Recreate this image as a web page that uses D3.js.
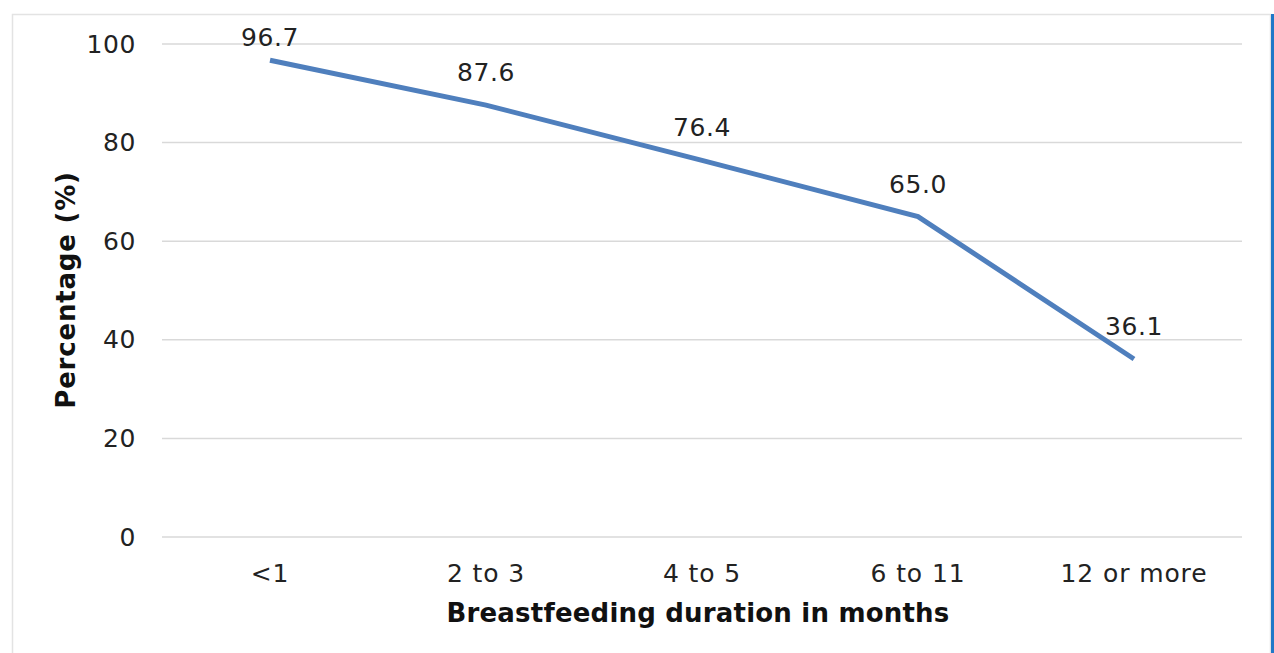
<!DOCTYPE html>
<html>
<head>
<meta charset="utf-8">
<script src="https://cdn.jsdelivr.net/npm/d3@7"></script>
<style>
  body { margin: 0; background: #fff; }
  svg { display: block; font-family: "DejaVu Sans", Verdana, sans-serif; }
</style>
</head>
<body>
<div id="chart"></div>
<script>
// Data
const categories = ["<1", "2 to 3", "4 to 5", "6 to 11", "12 or more"];
const values = [96.7, 87.6, 76.4, 65.0, 36.1];
const yTicks = [0, 20, 40, 60, 80, 100];

// Dimensions
const W = 1274, H = 653;
const margin = { top: 44, right: 32, bottom: 116, left: 162 };
const width = 1242 - margin.left;
const height = 537 - margin.top;

const svg = d3.select("#chart")
  .append("svg")
  .attr("width", W)
  .attr("height", H);

// Outer frame
svg.append("rect")
  .attr("x", 12.5).attr("y", 14.5)
  .attr("width", 1258).attr("height", 660)
  .attr("fill", "none")
  .attr("stroke", "#e3e3e3")
  .attr("stroke-width", 1.5);

// Blue edge on the right
svg.append("line")
  .attr("x1", 1272.5).attr("x2", 1272.5)
  .attr("y1", 14).attr("y2", H)
  .attr("stroke", "#1f78c8")
  .attr("stroke-width", 3);

const g = svg.append("g")
  .attr("transform", `translate(${margin.left}, ${margin.top})`);

// Scales
const x = d3.scaleBand().domain(categories).range([0, width]);
const y = d3.scaleLinear().domain([0, 100]).range([height, 0]);

// Gridlines
g.append("g")
  .selectAll("line")
  .data(yTicks)
  .join("line")
  .attr("x1", 0).attr("x2", width)
  .attr("y1", d => y(d)).attr("y2", d => y(d))
  .attr("stroke", "#d9d9d9")
  .attr("stroke-width", 1.5);

// Y axis
const yAxis = g.append("g")
  .call(d3.axisLeft(y).tickValues(yTicks).tickSize(0).tickPadding(26));
yAxis.select(".domain").remove();
yAxis.selectAll("text")
  .attr("font-size", 25)
  .attr("letter-spacing", 0.6)
  .attr("fill", "#222")
  .attr("font-family", "DejaVu Sans, sans-serif");

// X axis
const xAxis = g.append("g")
  .attr("transform", `translate(0, ${height})`)
  .call(d3.axisBottom(x).tickSize(0).tickPadding(0));
xAxis.select(".domain").remove();
xAxis.selectAll("text")
  .attr("dy", 0)
  .attr("y", 45)
  .attr("font-size", 25)
  .attr("letter-spacing", 0.9)
  .attr("fill", "#222")
  .attr("font-family", "DejaVu Sans, sans-serif");

// Axis titles
svg.append("text")
  .attr("x", 698)
  .attr("y", 622)
  .attr("text-anchor", "middle")
  .attr("font-size", 26)
  .attr("font-weight", "bold")
  .attr("letter-spacing", 0.2)
  .attr("fill", "#111")
  .text("Breastfeeding duration in months");

svg.append("text")
  .attr("transform", "rotate(-90)")
  .attr("x", -290)
  .attr("y", 75)
  .attr("text-anchor", "middle")
  .attr("font-size", 26)
  .attr("font-weight", "bold")
  .attr("letter-spacing", 0.8)
  .attr("fill", "#111")
  .text("Percentage (%)");

// Line
const line = d3.line()
  .x((d, i) => x(categories[i]) + x.bandwidth() / 2)
  .y(d => y(d));

g.append("path")
  .datum(values)
  .attr("fill", "none")
  .attr("stroke", "#4f7fbd")
  .attr("stroke-width", 5)
  .attr("d", line);

// Data labels
g.append("g")
  .selectAll("text")
  .data(values)
  .join("text")
  .attr("x", (d, i) => x(categories[i]) + x.bandwidth() / 2)
  .attr("y", d => Math.max(y(d) - 24, 2))
  .attr("text-anchor", "middle")
  .attr("font-size", 25)
  .attr("letter-spacing", 0.6)
  .attr("fill", "#222")
  .text(d => d.toFixed(1));
</script>
</body>
</html>
